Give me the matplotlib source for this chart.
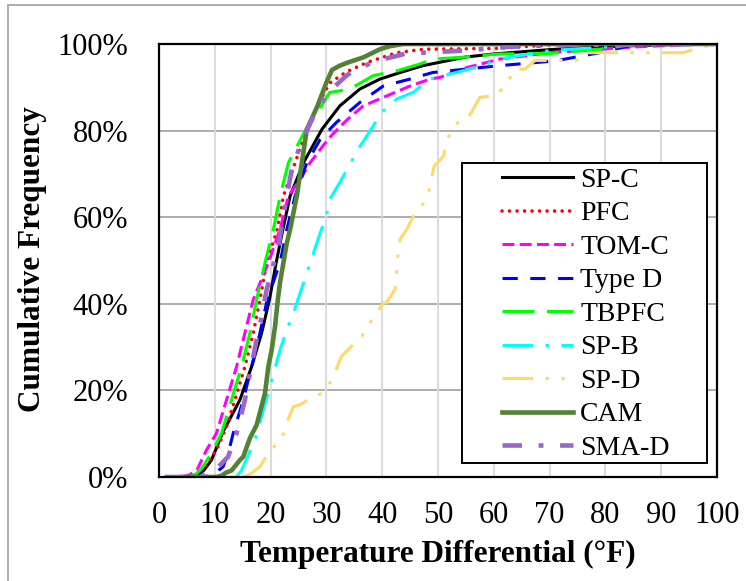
import matplotlib
matplotlib.use("Agg")
import matplotlib.pyplot as plt
from matplotlib.patches import Rectangle

plt.rcParams['font.family'] = ['Liberation Serif', 'DejaVu Serif']
plt.rcParams['lines.scale_dashes'] = False

# ---------------- data (temperature differential °F, cumulative %) ----------------
spc_t = [5, 7, 8, 9.4, 11.5, 14.5, 16.6, 18.4, 19.8, 21.0, 22.2, 23.5, 25.9, 29.2, 32.4, 36, 39.6, 43.2, 47.3, 55, 60, 70, 80, 90, 100]
spc_f = [0, 0.5, 1.5, 3.9, 10.5, 17.8, 25.5, 33.3, 41, 49.5, 57.2, 64.9, 72.6, 80.3, 85.7, 89.6, 91.9, 93.4, 95, 97, 97.7, 98.7, 99.4, 99.8, 100]

pfc_t = [5, 6.5, 8.2, 10.3, 12.1, 13.6, 15.4, 16.9, 18.1, 19.3, 21.2, 22.3, 24.4, 26.5, 28.5, 30.6, 33.5, 37.2, 42.6, 47.5, 55, 61, 70, 80, 100]
pfc_f = [0, 0.5, 2.4, 6.2, 11.6, 17.8, 25.5, 33.3, 41, 49.5, 57.2, 64.9, 72.6, 80.3, 86, 91, 93.5, 95.7, 98, 98.8, 98.9, 99, 99.8, 100, 100]

tomc_t = [4, 5.5, 6.8, 8.5, 10.3, 12.1, 13.9, 15.4, 16.9, 19.6, 21.7, 23.2, 25.3, 27.1, 29.4, 31, 33.8, 36.6, 40.8, 45, 48.6, 50.4, 55, 61, 70, 85, 95, 100]
tomc_f = [0, 0.5, 1.6, 6.2, 10.1, 17.8, 25.5, 33.3, 41, 49.5, 57.2, 64.9, 68.8, 72.6, 76.5, 79, 82.6, 85.7, 88, 90.3, 91.9, 92.3, 94.5, 96.5, 98, 99.3, 99.9, 100]

typed_t = [6, 8, 10, 11.5, 12.5, 13.3, 15.1, 16.6, 18.1, 19.4, 21.7, 22.9, 24.4, 26.5, 28.9, 31.8, 36, 40.2, 45, 49, 55, 61, 71, 79, 85, 100]
typed_f = [0, 0, 0.8, 2.4, 6, 10.1, 17.8, 25.5, 33.3, 41, 49.5, 57.2, 64.9, 72.6, 78, 81.9, 86.5, 90.3, 91.9, 93.4, 94.2, 95, 96.1, 98, 99.8, 100]

tbpfc_t = [5, 6.5, 7.9, 9.7, 11.2, 13, 14.8, 16.3, 17.5, 19, 20.5, 21.7, 23.2, 26.2, 28, 30.6, 34.2, 38.4, 42.6, 46.8, 49, 55, 61, 70, 79, 85, 100]
tbpfc_f = [0, 0.5, 2.4, 6.2, 10.1, 17.8, 25.5, 33.3, 41, 49.5, 57.2, 64.9, 72.6, 80, 83.4, 88.8, 89.6, 92.7, 93.8, 95.4, 96.5, 97, 97.7, 97.8, 98.8, 99.9, 100]

spb_t = [13.9, 14.8, 17.2, 19.9, 21.7, 22.9, 24.1, 26.5, 28.9, 30, 30.6, 32.4, 35.7, 38.4, 39.9, 42.6, 45.5, 48.6, 52, 58, 61, 70, 79, 85, 100]
spb_f = [0, 1.6, 8.6, 20.9, 29.4, 34, 37.9, 47.1, 56.4, 60.3, 64.1, 68, 75.7, 81.1, 84.2, 87.3, 88.8, 91.9, 93, 95, 96.5, 98.5, 99.2, 99.9, 100]

spd_t = [15.1, 16.5, 18.1, 19.9, 22, 22.6, 24.1, 25.3, 27.1, 29.4, 31, 32.7, 34.5, 36.3, 37.8, 40.2, 40.7, 42.3, 42.6, 42.8, 43.2, 44.4, 45.6, 47.1, 48.3, 49.3, 51, 51.6, 52.7, 53.6, 55.1, 56, 57.5, 60.2, 62, 63.8, 65.6, 67.4, 70.4, 75.4, 76.5, 80, 86, 91, 94, 96.4, 100]
spd_f = [0, 0.8, 2.4, 6.2, 8.6, 11.6, 16.3, 16.7, 18.2, 19.4, 22.5, 27.9, 30.2, 32.5, 35.6, 40.2, 40.2, 43.3, 47.5, 51, 54.9, 57.2, 60.3, 62.6, 65.7, 71.8, 74.1, 78, 80.3, 81.9, 82.6, 84.2, 87.7, 88, 90.3, 94.2, 94.2, 96.2, 96.2, 96.3, 98, 98, 98, 98, 98, 99, 100]

cam_t = [4, 10.3, 11.2, 12, 13, 14.5, 15.1, 16.3, 17.5, 19, 19.6, 20.2, 20.8, 21.3, 21.7, 22.3, 22.9, 23.5, 24.7, 25.6, 26.5, 28.4, 30, 31, 32.4, 34, 36.6, 39.6, 41.4, 43.8, 100]
cam_f = [0, 0, 0.3, 1, 1.5, 3.9, 4.7, 9, 12, 19.4, 25.5, 29.4, 34.8, 41, 45, 49.5, 54, 57.2, 64.9, 72.6, 80.3, 85.7, 91.1, 94, 95, 95.8, 96.9, 98.8, 99.5, 100, 100]

smad_t = [1, 7.4, 10, 12.4, 13.9, 15.4, 16.3, 17.5, 18.4, 19.3, 21.4, 22.6, 23.8, 25.3, 27.7, 30.3, 33.6, 35.4, 39, 44, 46, 55, 62, 70, 100]
smad_f = [0, 0, 1.5, 4.7, 10.1, 17.8, 24, 31.7, 37.1, 43.3, 53.3, 62.6, 71.1, 76.5, 83.4, 88.8, 92.7, 94.2, 96.1, 97.7, 97.9, 98.5, 99.3, 99.7, 100]

labels = ['SP-C', 'PFC', 'TOM-C', 'Type D', 'TBPFC', 'SP-B', 'SP-D', 'CAM', 'SMA-D']
x_ticks = [0, 10, 20, 30, 40, 50, 60, 70, 80, 90, 100]
y_ticks = [0, 20, 40, 60, 80, 100]
y_ticklabels = ['0%', '20%', '40%', '60%', '80%', '100%']

series = [
    (spc_t, spc_f, dict(color='#000000', lw=2.2, ls='-')),
    (pfc_t, pfc_f, dict(color='#FF0000', lw=2.6, ls=(0, (0.01, 5.4)), dash_capstyle='round')),
    (tomc_t, tomc_f, dict(color='#FF00FF', lw=2.2, ls=(0, (8.6, 3.8)))),
    (typed_t, typed_f, dict(color='#0000FF', lw=2.2, ls=(0, (11, 9)))),
    (tbpfc_t, tbpfc_f, dict(color='#00FF00', lw=2.2, ls=(0, (23, 9)))),
    (spb_t, spb_f, dict(color='#00FFFF', lw=2.2, ls=(0, (22, 9, 2.4, 9)))),
    (spd_t, spd_f, dict(color='#FFD966', lw=2.2, ls=(0, (22, 9, 2.4, 9, 2.4, 9)))),
    (cam_t, cam_f, dict(color='#548235', lw=3.3, ls='-')),
    (smad_t, smad_f, dict(color='#9966CC', lw=3.3, ls=(0, (14, 12, 3.5, 12)))),
]

fig = plt.figure(figsize=(7.46, 5.81), dpi=100)
W, H = 746, 581
ax = fig.add_axes([159 / W, (H - 477) / H, 558 / W, 433 / H])

handles = []
for (t, f, st), lab in zip(series, labels):
    ln, = ax.plot(t, f, label=lab, zorder=3, **st)
    handles.append(ln)

ax.set_xlim(0, 100)
ax.set_ylim(0, 100)
ax.set_xticks(x_ticks)
ax.set_yticks(y_ticks)
ax.set_yticklabels(y_ticklabels)
ax.tick_params(axis='both', length=0, labelsize=22)
ax.tick_params(axis='y', pad=22)
ax.tick_params(axis='x', pad=17)

for yv in y_ticks[1:-1]:
    ax.axhline(yv, color='#A6A6A6', lw=1.3, zorder=1)
for xv in x_ticks[1:-1]:
    ax.axvline(xv, color='#D9D9D9', lw=1.3, zorder=1)

for sp in ax.spines.values():
    sp.set_color('#000000')
    sp.set_linewidth(1.6)
    sp.set_zorder(6)

ax.set_xlabel('Temperature Differential (°F)', fontsize=22.5, fontweight='bold')
ax.set_ylabel('Cumulative Frequency', fontsize=22.5, fontweight='bold')
ax.xaxis.label.set_va('center')
ax.yaxis.label.set_va('center')
ax.xaxis.set_label_coords(0.5, (477 - 554) / 433)
ax.yaxis.set_label_coords((33 - 159) / 558, (477 - 259) / 433)

# legend box
ax.add_patch(Rectangle((0.543, 0.032), 0.439, 0.693, transform=ax.transAxes,
                       facecolor='white', edgecolor='black', lw=1.4, zorder=4.5))
leg = ax.legend(handles=handles, loc='upper left', bbox_to_anchor=(0.615, 0.715),
                frameon=False, fontsize=20, handlelength=2.55, handletextpad=0.26,
                labelspacing=0.29, borderpad=0, borderaxespad=0)
leg.set_zorder(5)

# outer figure frame
fig.add_artist(Rectangle((8 / W, -0.05), 1.2, 1 - 5 / H + 0.05, transform=fig.transFigure,
                         facecolor='none', edgecolor='#A6A6A6', lw=1.3))

fig.savefig('out.png', dpi=100)
